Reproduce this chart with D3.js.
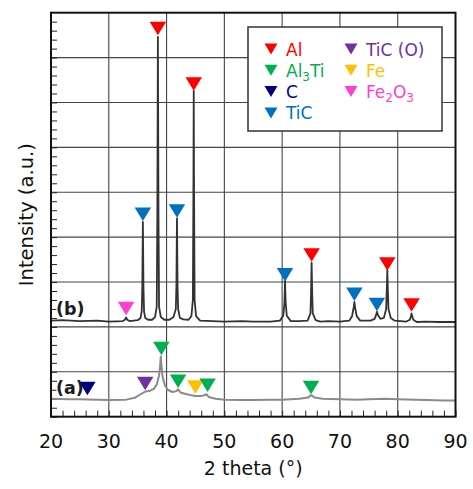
<!DOCTYPE html>
<html>
<head>
<meta charset="utf-8">
<script src="https://cdn.jsdelivr.net/npm/d3@7"></script>
<style>
  body { margin: 0; background: #fff; }
  text { font-family: "DejaVu Sans", sans-serif; }
</style>
</head>
<body>
<svg id="chart" width="473" height="489"></svg>
<script>
// --- data (2 theta in degrees, intensity in arbitrary grid units) ---
const xTicks = [20, 30, 40, 50, 60, 70, 80, 90];

// sample (b): 2theta / intensity
const thetaB = [20, 22, 25, 28, 30, 32.4, 32.8, 33.0, 33.2, 33.6, 35.0, 35.5, 35.7, 35.8, 35.9, 36.0, 36.1, 36.3, 36.8,
  37.5, 38.0, 38.3, 38.4, 38.5, 38.6, 38.7, 39.0, 39.6, 40.5, 41.2, 41.6, 41.7, 41.8, 41.9, 42.0, 42.3, 42.9,
  43.8, 44.3, 44.55, 44.65, 44.7, 44.75, 44.85, 45.1, 45.8, 48, 50, 53, 55, 58, 59.6, 60.2, 60.4, 60.5, 60.6, 60.8, 61.5,
  63, 64.4, 64.9, 65.0, 65.1, 65.2, 65.3, 65.8, 66.6, 68, 70, 71.6, 72.1, 72.4, 72.5, 72.6, 72.9, 73.5,
  75.3, 76.0, 76.3, 76.4, 76.6, 77.0, 77.6, 78.0, 78.1, 78.2, 78.3, 78.4, 78.8, 79.5, 81.5, 82.1, 82.3, 82.4, 82.5, 82.7, 83.3,
  85, 87, 90];
const valueB = [2.14, 2.15, 2.13, 2.14, 2.12, 2.13, 2.16, 2.21, 2.16, 2.13, 2.15, 2.2, 2.35, 2.9, 4.34, 2.9, 2.35, 2.2, 2.16,
  2.16, 2.22, 2.45, 4.5, 8.46, 4.5, 2.45, 2.22, 2.16, 2.16, 2.22, 2.4, 2.9, 4.42, 2.9, 2.4, 2.2, 2.17,
  2.16, 2.24, 2.6, 5.2, 7.26, 5.2, 2.6, 2.24, 2.14, 2.13, 2.12, 2.13, 2.12, 2.12, 2.14, 2.25, 2.55, 3.03, 2.55, 2.25, 2.13,
  2.13, 2.14, 2.3, 2.75, 3.43, 2.75, 2.3, 2.15, 2.12, 2.13, 2.12, 2.14, 2.24, 2.45, 2.56, 2.45, 2.24, 2.14,
  2.14, 2.18, 2.28, 2.34, 2.26, 2.18, 2.2, 2.4, 2.8, 3.27, 2.8, 2.4, 2.2, 2.14, 2.12, 2.16, 2.24, 2.30, 2.24, 2.16, 2.11,
  2.12, 2.11, 2.11];

// sample (a): 2theta / intensity
const thetaA = [20, 23, 25, 28, 30, 33, 34.5, 35.5, 36.3, 37.0, 37.8, 38.3, 38.7, 38.9, 39.0, 39.1, 39.3, 39.7, 40.2,
  41.0, 41.7, 42.0, 42.4, 43.5, 44.5, 45.0, 46.0, 46.6, 46.9, 47.3, 48.5, 50, 53, 55, 58, 60, 63, 64.5,
  65.0, 65.6, 67, 70, 73, 75, 78, 80, 83, 85, 88, 90];
const valueA = [0.40, 0.39, 0.39, 0.38, 0.37, 0.38, 0.42, 0.5, 0.56, 0.57, 0.62, 0.72, 0.92, 1.15, 1.34, 1.15, 0.9, 0.7, 0.6,
  0.55, 0.57, 0.61, 0.54, 0.5, 0.47, 0.46, 0.46, 0.48, 0.5, 0.44, 0.4, 0.38, 0.37, 0.37, 0.38, 0.38, 0.4, 0.43,
  0.48, 0.43, 0.4, 0.39, 0.38, 0.39, 0.4, 0.39, 0.38, 0.37, 0.36, 0.36];

// phase labels and colours
const phases = ["Al", "Al3Ti", "C", "TiC", "TiC (O)", "Fe", "Fe2O3"];
const phaseColors = ["#ff0000", "#00b050", "#000080", "#0070c0", "#7030a0", "#ffc000", "#ff3fd0"];

// peak markers: phase, 2theta, marker tip intensity
const markPhase = ["Fe2O3", "TiC", "Al", "TiC", "Al", "TiC", "Al", "TiC", "TiC", "Al", "Al",
  "C", "TiC (O)", "Al3Ti", "Al3Ti", "Fe", "Al3Ti", "Al3Ti"];
const markTheta = [33.0, 35.9, 38.5, 41.8, 44.7, 60.5, 65.1, 72.5, 76.4, 78.2, 82.4,
  26.3, 36.3, 39.1, 42.0, 45.0, 47.1, 65.0];
const markValue = [2.26, 4.36, 8.50, 4.43, 7.26, 3.01, 3.45, 2.58, 2.35, 3.25, 2.34,
  0.48, 0.59, 1.37, 0.64, 0.51, 0.55, 0.50];

const sampleNames = ["(b)", "(a)"];
const sampleLabelValue = [2.26, 0.5];

// --- layout ---
const svg = d3.select("#chart");
const margin = {top: 12.7, left: 51, bottom: 72.3, right: 17.5};
const width = 473, height = 489;
const x = d3.scaleLinear().domain([20, 90]).range([margin.left, width - margin.right]);
const y = d3.scaleLinear().domain([0, 9]).range([height - margin.bottom, margin.top]);
const color = d3.scaleOrdinal().domain(phases).range(phaseColors);

// grid
svg.append("g").selectAll("line").data(d3.range(30, 90, 10)).join("line")
  .attr("x1", d => x(d)).attr("x2", d => x(d))
  .attr("y1", y(0)).attr("y2", y(9))
  .attr("stroke", "#444").attr("stroke-width", 1.1);
svg.append("g").selectAll("line").data(d3.range(1, 9)).join("line")
  .attr("x1", x(20)).attr("x2", x(90))
  .attr("y1", d => y(d)).attr("y2", d => y(d))
  .attr("stroke", "#444").attr("stroke-width", 1.1);

// minor ticks (inward)
const bottomAxis = svg.append("g").attr("transform", `translate(0,${y(0)})`)
  .call(d3.axisTop(x).tickValues(d3.range(20, 91, 2)).tickSize(6).tickFormat(""));
bottomAxis.select(".domain").remove();
bottomAxis.selectAll("line").attr("stroke", "#222");
const leftAxis = svg.append("g").attr("transform", `translate(${x(20)},0)`)
  .call(d3.axisRight(y).tickValues(d3.range(0, 45).map(i => i / 5)).tickSize(6).tickFormat(""));
leftAxis.select(".domain").remove();
leftAxis.selectAll("line").attr("stroke", "#222");

// tick labels
svg.append("g").selectAll("text").data(xTicks).join("text")
  .attr("x", d => x(d)).attr("y", 448)
  .attr("text-anchor", "middle").attr("font-size", 19).attr("fill", "#111")
  .text(d => d);

// curves
const line = d3.line().x(d => x(d[0])).y(d => y(d[1]));
svg.append("path").datum(d3.zip(thetaA, valueA))
  .attr("d", line).attr("fill", "none").attr("stroke", "#8a8a8a").attr("stroke-width", 2).attr("stroke-linejoin", "round");
svg.append("path").datum(d3.zip(thetaB, valueB))
  .attr("d", line).attr("fill", "none").attr("stroke", "#333").attr("stroke-width", 1.8).attr("stroke-linejoin", "round");

// sample labels
svg.append("g").selectAll("text").data(sampleNames).join("text")
  .attr("x", 56).attr("y", (d, i) => y(sampleLabelValue[i]))
  .attr("font-size", 17.5).attr("font-weight", "bold").attr("fill", "#1a1a22")
  .attr("stroke", "#fff").attr("stroke-width", 2.5).attr("paint-order", "stroke")
  .text(d => d);

// peak markers
const tri = (w, h) => `M${-w / 2},${-h}L${w / 2},${-h}L0,0Z`;
svg.append("g").selectAll("path").data(d3.range(markPhase.length)).join("path")
  .attr("transform", i => `translate(${x(markTheta[i])},${y(markValue[i])})`)
  .attr("d", tri(16.5, 13.5))
  .attr("fill", i => color(markPhase[i]));

// frame
svg.append("rect")
  .attr("x", x(20)).attr("y", y(9)).attr("width", x(90) - x(20)).attr("height", y(0) - y(9))
  .attr("fill", "none").attr("stroke", "#111").attr("stroke-width", 2);

// axis titles
svg.append("text").attr("x", (x(20) + x(90)) / 2).attr("y", 475)
  .attr("text-anchor", "middle").attr("font-size", 19).attr("fill", "#111")
  .text("2 theta (°)");
svg.append("text").attr("transform", `translate(33,${(y(0) + y(9)) / 2}) rotate(-90)`)
  .attr("text-anchor", "middle").attr("font-size", 19.5).attr("fill", "#111")
  .text("Intensity (a.u.)");

// legend
const legend = svg.append("g");
legend.append("rect").attr("x", 248).attr("y", 27).attr("width", 194).attr("height", 104)
  .attr("fill", "#fff").attr("stroke", "#333").attr("stroke-width", 1.5);
const legItems = legend.selectAll("g").data(phases).join("g")
  .attr("transform", (d, i) => i < 4 ? `translate(271,${49 + i * 21.3})` : `translate(351,${49 + (i - 4) * 21.3})`);
legItems.append("path").attr("d", tri(13, 11)).attr("transform", "translate(0,5.5)")
  .attr("fill", d => color(d));
legItems.each(function(d) {
  const t = d3.select(this).append("text").attr("x", 15).attr("y", 6.5)
    .attr("font-size", 17).attr("fill", color(d));
  // digits are drawn as subscripts
  let sub = false;
  d.split(/(\d)/).filter(s => s).forEach(s => {
    const isDigit = /\d/.test(s);
    t.append("tspan")
      .attr("dy", isDigit ? 4 : (sub ? -4 : 0))
      .attr("font-size", isDigit ? 12 : null)
      .text(s);
    sub = isDigit;
  });
});
</script>
</body>
</html>
